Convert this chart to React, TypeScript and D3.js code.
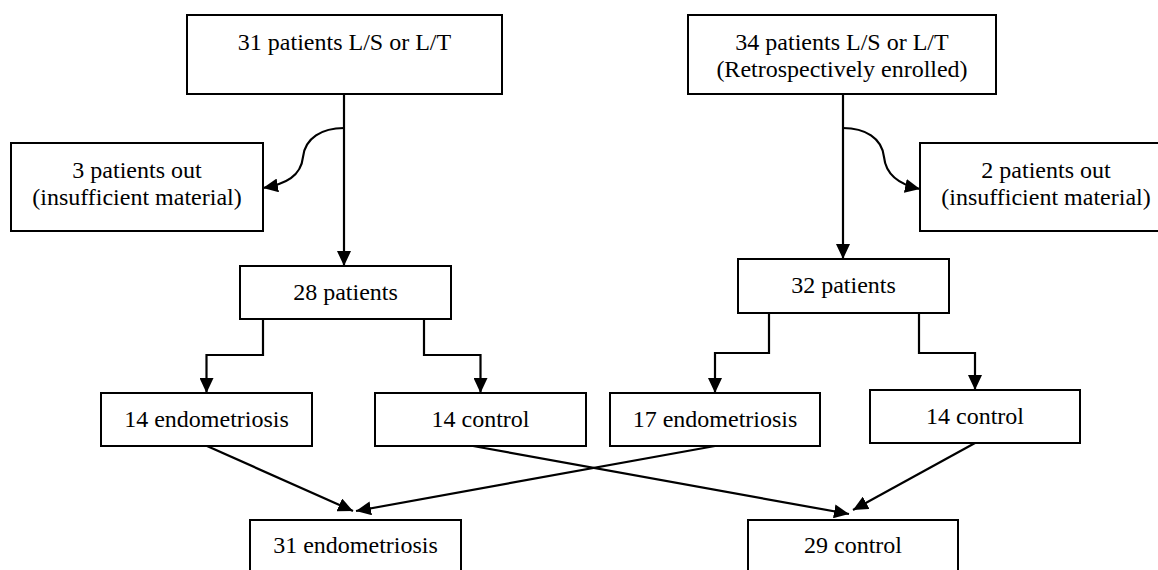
import React, { useEffect, useRef } from 'react';
import * as d3 from 'd3';

// Flow chart content
const boxLabels: string[][] = [
  ['31 patients L/S or L/T'],
  ['34 patients L/S or L/T', '(Retrospectively enrolled)'],
  ['3 patients out', '(insufficient material)'],
  ['2 patients out', '(insufficient material)'],
  ['28 patients'],
  ['32 patients'],
  ['14 endometriosis'],
  ['14 control'],
  ['17 endometriosis'],
  ['14 control'],
  ['31 endometriosis'],
  ['29 control'],
];
const patientCounts = [31, 34, 3, 2, 28, 32, 14, 14, 17, 14, 31, 29];
const boxIds = ['topA', 'topB', 'outA', 'outB', 'midA', 'midB', 'endoA', 'ctrlA', 'endoB', 'ctrlB', 'endoAll', 'ctrlAll'];
// which boxes put the text from the top (multi-line layout) instead of centred
const topAligned = [true, true, true, true, false, false, false, false, false, false, false, false];

// layout (pixels): x0, x1, y0, y1 for every box
const boxLayout: [number, number, number, number][] = [
  [187, 502, 15, 94],
  [688, 996, 15, 94],
  [11, 263, 143, 231],
  [920, 1172, 143, 231],
  [240, 451, 266, 319],
  [738, 949, 259, 313],
  [101, 312, 393, 446],
  [375, 586, 393, 446],
  [610, 820, 393, 446],
  [870, 1080, 390, 443],
  [250, 461, 520, 572],
  [748, 958, 520, 572],
];

const App = () => {
  const svgRef = useRef<SVGSVGElement>(null);
  const width = 1158;
  const height = 570;

  useEffect(() => {
    const svg = d3.select(svgRef.current);
    svg.selectAll('*').remove();
    svg.attr('width', width).attr('height', height);

    svg.append('rect').attr('width', width).attr('height', height).attr('fill', '#ffffff');

    const defs = svg.append('defs');
    defs.append('marker')
      .attr('id', 'arrow')
      .attr('viewBox', '0 0 15 14')
      .attr('refX', 15)
      .attr('refY', 7)
      .attr('markerWidth', 15)
      .attr('markerHeight', 14)
      .attr('markerUnits', 'userSpaceOnUse')
      .attr('orient', 'auto')
      .append('path')
      .attr('d', 'M0,0 L15,7 L0,14 Z')
      .attr('fill', '#000');

    const box = (id: string) => {
      const i = boxIds.indexOf(id);
      const [x0, x1, y0, y1] = boxLayout[i];
      return { x0, x1, y0, y1, cx: (x0 + x1) / 2 };
    };

    const links = svg.append('g')
      .attr('fill', 'none')
      .attr('stroke', '#000')
      .attr('stroke-width', 2.2);

    const addLink = (d: string) => {
      links.append('path').attr('d', d).attr('marker-end', 'url(#arrow)');
    };

    // straight down into the remaining-patients boxes
    const a = box('topA'), b = box('topB'), e = box('midA'), f = box('midB');
    addLink(d3.line()([[344, a.y1], [344, e.y0]]) as string);
    addLink(d3.line()([[843, b.y1], [843, f.y0]]) as string);

    // curved exclusion arrows
    const pa = d3.path();
    pa.moveTo(344, 128);
    pa.bezierCurveTo(322, 128, 305, 138, 303, 157);
    pa.bezierCurveTo(301, 176, 286, 184, box('outA').x1, 188);
    addLink(pa.toString());

    const pb = d3.path();
    pb.moveTo(843, 128);
    pb.bezierCurveTo(865, 128, 882, 138, 884, 157);
    pb.bezierCurveTo(886, 176, 901, 185, box('outB').x0, 189);
    addLink(pb.toString());

    // elbow split into endometriosis / control
    const elbow = (sx: number, sy: number, midY: number, tx: number, ty: number) =>
      d3.line()([[sx, sy], [sx, midY], [tx, midY], [tx, ty]]) as string;
    addLink(elbow(263, e.y1, 355, box('endoA').cx, box('endoA').y0));
    addLink(elbow(424, e.y1, 355, box('ctrlA').cx, box('ctrlA').y0));
    addLink(elbow(769, f.y1, 353, box('endoB').cx, box('endoB').y0));
    addLink(elbow(919, f.y1, 353, box('ctrlB').cx, box('ctrlB').y0));

    // merge into the pooled groups
    addLink(d3.line()([[207, box('endoA').y1], [353, 511]]) as string);
    addLink(d3.line()([[box('endoB').cx, box('endoB').y1], [356, 511]]) as string);
    addLink(d3.line()([[473, box('ctrlA').y1], [849, 514]]) as string);
    addLink(d3.line()([[box('ctrlB').cx, box('ctrlB').y1], [853, 510]]) as string);

    // boxes
    const nodes = svg.append('g')
      .selectAll('g')
      .data(boxIds.map((id, i) => ({ id, lines: boxLabels[i], n: patientCounts[i], top: topAligned[i], ...box(id) })))
      .enter().append('g');

    nodes.append('rect')
      .attr('x', d => d.x0)
      .attr('y', d => d.y0)
      .attr('width', d => d.x1 - d.x0)
      .attr('height', d => d.y1 - d.y0)
      .attr('fill', '#fff')
      .attr('stroke', '#000')
      .attr('stroke-width', 2);

    nodes.each(function (d) {
      const g = d3.select(this);
      d.lines.forEach((line, j) => {
        const y = d.top ? d.y0 + 35 + j * 27 : (d.y0 + d.y1) / 2 + 7;
        g.append('text')
          .attr('x', d.cx)
          .attr('y', y)
          .attr('text-anchor', 'middle')
          .attr('font-family', 'Liberation Serif, Times New Roman, serif')
          .attr('font-size', 24)
          .attr('fill', '#000')
          .text(line);
      });
    });
  }, []);

  return (
    <div style={{ position: 'absolute', left: 0, top: 0, width: 1158, height: 570, overflow: 'hidden' }}>
      <svg ref={svgRef} style={{ display: 'block' }} />
    </div>
  );
};

export default App;
